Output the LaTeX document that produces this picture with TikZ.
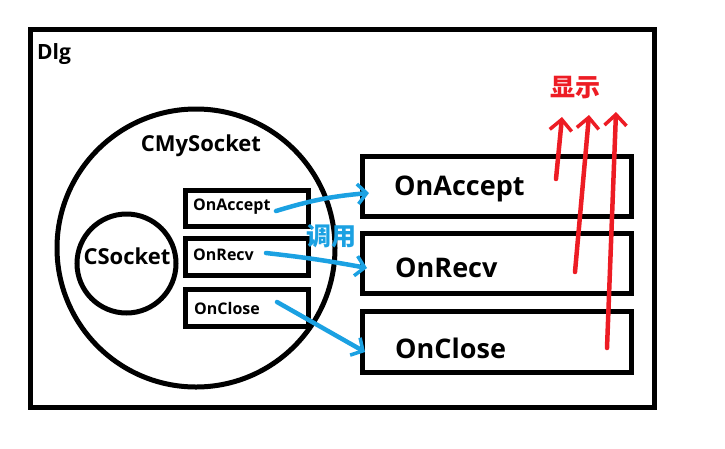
\documentclass[tikz,border=0pt]{standalone}
\usepackage{fontspec}
\setmainfont{Open Sans}
\newfontfamily\cjk{Noto Sans CJK SC}
\usetikzlibrary{arrows.meta}
\definecolor{callblue}{RGB}{27,161,226}
\definecolor{showred}{RGB}{237,28,36}
\tikzset{
  frame/.style={draw=black, line width=5pt, rectangle, inner sep=0pt},
  ring/.style={draw=black, line width=5pt, circle, inner sep=0pt},
  lbl/.style={inner sep=0pt, font=\bfseries},
  callarrow/.style={draw=callblue, line width=4.5pt, line cap=round,
    -{Straight Barb[length=9pt,width=20pt,line width=3.5pt]}},
  showarrow/.style={draw=showred, line width=4.5pt, line cap=round,
    -{Straight Barb[length=11pt,width=22pt,line width=3.5pt]}}
}
\begin{document}
\begin{tikzpicture}[x=1pt,y=-1pt]
\useasboundingbox (0,0) rectangle (725,448);
% outer dialog
\node[frame, minimum width=624pt, minimum height=378pt] (dlg) at (342,218.5) {};
\node[lbl, anchor=west, font=\bfseries\fontsize{21}{21}\selectfont] (dlgt) at (37,54) {Dlg};
% circles
\node[ring, minimum size=278pt] (cmy) at (196,248) {};
\node[lbl, font=\bfseries\fontsize{22}{22}\selectfont] (cmyt) at (201,146) {CMySocket};
\node[ring, minimum size=99pt] (cs) at (126.5,263.5) {};
\node[lbl, font=\bfseries\fontsize{22}{22}\selectfont] (cst) at (127,256) {CSocket};
% small boxes
\node[frame, minimum width=123pt, minimum height=36pt] (sa) at (246.5,208) {};
\node[frame, minimum width=123pt, minimum height=37pt] (sr) at (246.5,256.5) {};
\node[frame, minimum width=123pt, minimum height=37pt] (sc) at (246.5,307.5) {};
\node[lbl, anchor=west, font=\bfseries\fontsize{16}{16}\selectfont] (sat) at (193,207) {OnAccept};
\node[lbl, anchor=west, font=\bfseries\fontsize{16}{16}\selectfont] (srt) at (193,255) {OnRecv};
\node[lbl, anchor=west, font=\bfseries\fontsize{16}{16}\selectfont] (sct) at (194,308) {OnClose};
% big boxes
\node[frame, minimum width=269pt, minimum height=60pt] (ba) at (496.5,186) {};
\node[frame, minimum width=269pt, minimum height=60pt] (br) at (496.5,263) {};
\node[frame, minimum width=269pt, minimum height=61pt] (bc) at (496.5,341.5) {};
\node[lbl, anchor=west, font=\bfseries\fontsize{27}{27}\selectfont] (bat) at (394,189) {OnAccept};
\node[lbl, anchor=west, font=\bfseries\fontsize{27}{27}\selectfont] (brt) at (395,268) {OnRecv};
\node[lbl, anchor=west, font=\bfseries\fontsize{27}{27}\selectfont] (bct) at (395,348) {OnClose};
% labels
\node[lbl, text=callblue, font=\cjk\bfseries\fontsize{25}{25}\selectfont] (call) at (331,236) {调用};
\node[lbl, text=showred, font=\cjk\bfseries\fontsize{25}{25}\selectfont] (show) at (575,88) {显示};
% blue call arrows
\coordinate (a1s) at (276,211);
\coordinate (a1e) at (369,193);
\coordinate (a2s) at (266,253);
\coordinate (a2e) at (367,268);
\coordinate (a3s) at (277,302);
\coordinate (a3e) at (365,352);
\draw[callarrow] (a1s) to[bend left=6] (a1e);
\draw[callarrow] (a2s) to[bend left=2] (a2e);
\draw[callarrow] (a3s) -- (a3e);
% red display arrows
\coordinate (r1s) at (556,179);
\coordinate (r1e) at (562,117);
\coordinate (r2s) at (575,272);
\coordinate (r2e) at (589,115);
\coordinate (r3s) at (607,348);
\coordinate (r3e) at (616,112);
\draw[showarrow] (r1s) -- (r1e);
\draw[showarrow] (r2s) -- (r2e);
\draw[showarrow] (r3s) -- (r3e);
\end{tikzpicture}
\end{document}
